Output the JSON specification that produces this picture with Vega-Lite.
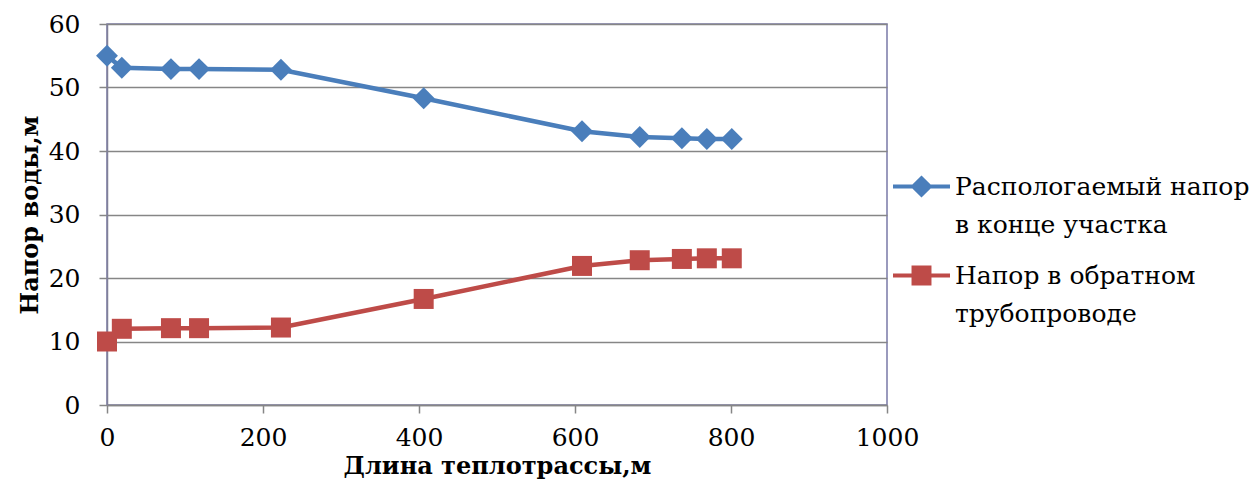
{
  "$schema": "https://vega.github.io/schema/vega-lite/v6.json",
  "width": 780,
  "height": 381,
  "autosize": {"type": "none"},
  "padding": {"left": 107, "top": 24, "right": 371, "bottom": 77},
  "background": "white",
  "config": {
    "view": {"stroke": "#7a7aa8", "strokeWidth": 1.5},
    "font": "DejaVu Serif"
  },
  "data": {
    "values": [
      {"x": 0, "y": 55.0, "s": "A"},
      {"x": 19, "y": 53.1, "s": "A"},
      {"x": 82, "y": 52.9, "s": "A"},
      {"x": 118, "y": 52.9, "s": "A"},
      {"x": 223, "y": 52.8, "s": "A"},
      {"x": 406, "y": 48.3, "s": "A"},
      {"x": 609, "y": 43.1, "s": "A"},
      {"x": 683, "y": 42.2, "s": "A"},
      {"x": 737, "y": 42.0, "s": "A"},
      {"x": 769, "y": 41.9, "s": "A"},
      {"x": 801, "y": 41.9, "s": "A"},
      {"x": 0, "y": 10.0, "s": "B"},
      {"x": 19, "y": 12.0, "s": "B"},
      {"x": 82, "y": 12.1, "s": "B"},
      {"x": 118, "y": 12.1, "s": "B"},
      {"x": 223, "y": 12.2, "s": "B"},
      {"x": 406, "y": 16.7, "s": "B"},
      {"x": 609, "y": 21.9, "s": "B"},
      {"x": 683, "y": 22.8, "s": "B"},
      {"x": 737, "y": 23.0, "s": "B"},
      {"x": 769, "y": 23.1, "s": "B"},
      {"x": 801, "y": 23.1, "s": "B"}
    ]
  },
  "encoding": {
    "x": {
      "field": "x", "type": "quantitative",
      "scale": {"domain": [0, 1000], "nice": false, "zero": false},
      "axis": {
        "values": [0, 200, 400, 600, 800, 1000],
        "format": "d",
        "labelFlush": false,
        "title": "Длина теплотрассы,м",
        "titleFont": "DejaVu Serif", "titleFontSize": 24, "titleFontWeight": "bold", "titleColor": "black",
        "titlePadding": 4,
        "labelFont": "DejaVu Serif", "labelFontSize": 25, "labelColor": "black", "labelPadding": 12,
        "domainColor": "#868686", "domainWidth": 1.5,
        "tickColor": "#868686", "tickWidth": 1.5, "tickSize": 8,
        "grid": false
      }
    },
    "y": {
      "field": "y", "type": "quantitative",
      "scale": {"domain": [0, 60], "nice": false},
      "axis": {
        "values": [0, 10, 20, 30, 40, 50, 60],
        "labelFlush": false,
        "title": "Напор воды,м",
        "titleFont": "DejaVu Serif", "titleFontSize": 24, "titleFontWeight": "bold", "titleColor": "black",
        "titlePadding": 6,
        "labelFont": "DejaVu Serif", "labelFontSize": 25, "labelColor": "black", "labelPadding": 19,
        "domainColor": "#808098", "domainWidth": 1.5,
        "tickColor": "#868686", "tickWidth": 1.5, "tickSize": 8,
        "grid": true, "gridColor": "#868686", "gridWidth": 1.5
      }
    },
    "color": {
      "field": "s", "type": "nominal",
      "scale": {"domain": ["A", "B"], "range": ["#4a7ebb", "#be4b48"]}
    }
  },
  "layer": [
    {
      "mark": {"type": "line", "strokeWidth": 4.5},
      "encoding": {
        "color": {
          "field": "s", "type": "nominal",
          "scale": {"domain": ["A", "B"], "range": ["#4a7ebb", "#be4b48"]},
          "legend": {
            "orient": "none",
            "legendX": 786,
            "legendY": 134,
            "title": null,
            "symbolSize": 3249,
            "symbolStrokeWidth": 0,
            "labelFont": "DejaVu Serif",
            "labelFontSize": 25,
            "labelColor": "black",
            "labelOffset": 5,
            "labelLimit": 400,
            "rowPadding": 9,
            "labelExpr": "datum.value === 'A' ? ['Распологаемый напор', 'в конце участка'] : ['Напор в обратном', 'трубопроводе']",
            "encode": {
              "symbols": {
                "update": {
                  "shape": {"signal": "datum.value === 'A' ? 'M-1,-0.07H1V0.07H-1Z M0,-0.39L0.39,0L0,0.39L-0.39,0Z' : 'M-1,-0.07H1V0.07H-1Z M-0.35,-0.35H0.35V0.35H-0.35Z'"},
                  "fillOpacity": {"value": 1},
                  "strokeWidth": {"value": 0}
                }
              },
              "labels": {
                "update": {
                  "lineHeight": {"value": 38},
                  "baseline": {"value": "middle"}
                }
              }
            }
          }
        }
      }
    },
    {
      "mark": {"type": "point", "filled": true, "opacity": 1},
      "transform": [{"filter": "datum.s === 'A'"}],
      "encoding": {
        "shape": {"value": "diamond"},
        "size": {"value": 480}
      }
    },
    {
      "mark": {"type": "point", "filled": true, "opacity": 1},
      "transform": [{"filter": "datum.s === 'B'"}],
      "encoding": {
        "shape": {"value": "square"},
        "size": {"value": 400}
      }
    }
  ]
}
